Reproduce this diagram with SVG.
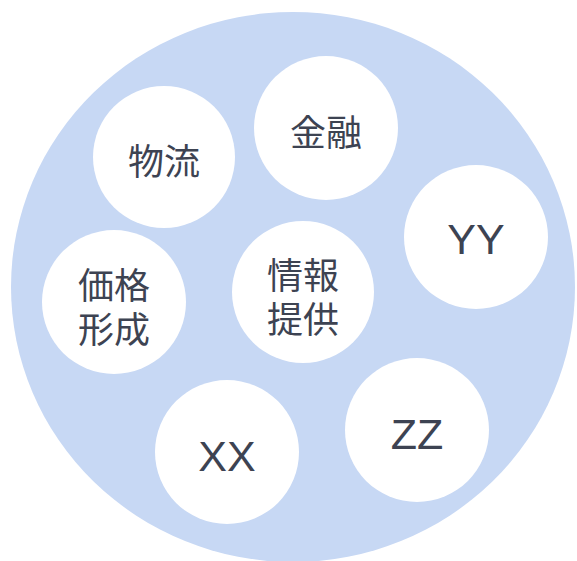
<svg xmlns="http://www.w3.org/2000/svg" width="577" height="561" viewBox="0 0 577 561">
<style>
.bg{fill:#C7D8F4}
.n{fill:#FFFFFF}
.t{fill:#3D4352;font-family:"Noto Sans CJK JP","Noto Sans",sans-serif;font-size:36px;text-anchor:middle;dominant-baseline:central}
.l{fill:#3D4352;font-family:"Liberation Sans",Arial,sans-serif;font-size:43px;text-anchor:middle;dominant-baseline:central}
</style>
<ellipse class="bg" cx="293" cy="287" rx="282" ry="275"/>
<g id="connectors"/>
<g id="node-butsuryu"><circle class="n" cx="164" cy="157" r="71"/><text class="t" x="164" y="159">物流</text></g>
<g id="node-kinyu"><circle class="n" cx="326" cy="128" r="72"/><text class="t" x="326" y="130">金融</text></g>
<g id="node-yy"><circle class="n" cx="476" cy="237" r="72"/><text class="l" x="476" y="239">YY</text></g>
<g id="node-kakaku"><circle class="n" cx="114" cy="302" r="72"/><text class="t" x="114" y="283">価格</text><text class="t" x="114" y="327">形成</text></g>
<g id="node-joho"><circle class="n" cx="303" cy="292" r="71"/><text class="t" x="303" y="273">情報</text><text class="t" x="303" y="317">提供</text></g>
<g id="node-xx"><circle class="n" cx="227" cy="452" r="72"/><text class="l" x="227" y="456">XX</text></g>
<g id="node-zz"><circle class="n" cx="417" cy="430" r="72"/><text class="l" x="417" y="434">ZZ</text></g>
</svg>
